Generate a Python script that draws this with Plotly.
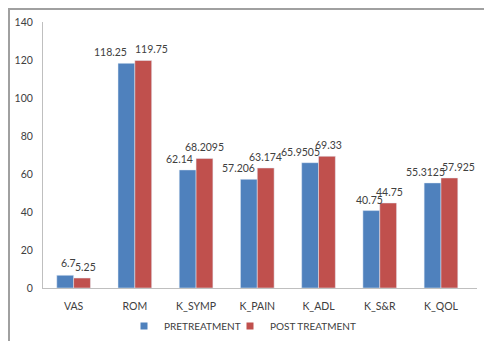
import plotly.graph_objects as go

categories = ["VAS", "ROM", "K_SYMP", "K_PAIN", "K_ADL", "K_S&R", "K_QOL"]
pre_values = [6.7, 118.25, 62.14, 57.206, 65.9505, 40.75, 55.3125]
post_values = [5.25, 119.75, 68.2095, 63.174, 69.33, 44.75, 57.925]
pre_labels = ["6.7", "118.25", "62.14", "57.206", "65.9505", "40.75", "55.3125"]
post_labels = ["5.25", "119.75", "68.2095", "63.174", "69.33", "44.75", "57.925"]
y_ticks = [0, 20, 40, 60, 80, 100, 120, 140]

# label nudges (px) as in the reference, relative to each bar's centre
pre_nudge = [3, -16, -8, -10, -9, -2, -7]
post_nudge = [3, 8, 0, 0, 1, 1, 9]
pre_lift = [12, 11, 11, 11, 11, 11, 11]

BLUE, RED = "#4F81BD", "#C0504D"
font = "Lato, 'Open Sans', sans-serif"
fs = 10.5
TXT = "#404040"

W, H = 484, 341
ml, mr, mt, mb = 43, 7, 22, 53
pw, ph = W - ml - mr, H - mt - mb
bargap = 0.45
cat_px = pw / len(categories)
bar_px = cat_px * (1 - bargap) / 2

def px_x(p):
    return (p - ml) / pw

def px_y(p):
    return (H - mb - p) / ph

fig = go.Figure()
fig.add_trace(go.Bar(name="PRETREATMENT", x=categories, y=pre_values, marker_color=BLUE,
                     showlegend=False, hoverinfo="x+y"))
fig.add_trace(go.Bar(name="POST TREATMENT", x=categories, y=post_values, marker_color=RED,
                     showlegend=False, hoverinfo="x+y"))
# legend entries with small square keys
fig.add_trace(go.Scatter(name="PRETREATMENT", x=[None], y=[None], mode="markers",
                         marker=dict(symbol="square", size=7, color=BLUE), legend="legend"))
fig.add_trace(go.Scatter(name="POST TREATMENT", x=[None], y=[None], mode="markers",
                         marker=dict(symbol="square", size=7, color=RED), legend="legend2"))

annotations = []
for cat, v, lab, dx, dy in zip(categories, pre_values, pre_labels, pre_nudge, pre_lift):
    annotations.append(dict(x=cat, y=v, xref="x", yref="y", text=lab, showarrow=False,
                            xanchor="center", yanchor="middle", xshift=-bar_px / 2 + dx,
                            yshift=dy, font=dict(size=fs, color=TXT, family=font)))
for cat, v, lab, dx in zip(categories, post_values, post_labels, post_nudge):
    annotations.append(dict(x=cat, y=v, xref="x", yref="y", text=lab, showarrow=False,
                            xanchor="center", yanchor="middle", xshift=bar_px / 2 + dx,
                            yshift=11, font=dict(size=fs, color=TXT, family=font)))

leg_common = dict(orientation="h", xref="container", yref="container", y=1 - 326 / H,
                  yanchor="middle", xanchor="left", font=dict(size=10, color=TXT),
                  itemwidth=30, bgcolor="rgba(0,0,0,0)", borderwidth=0)

fig.update_layout(
    width=W, height=H,
    margin=dict(l=ml, r=mr, t=mt, b=mb, autoexpand=False),
    paper_bgcolor="white", plot_bgcolor="white",
    barmode="group", bargap=bargap, bargroupgap=0,
    font=dict(family=font, size=fs, color=TXT),
    showlegend=True,
    legend=dict(x=(164 - 40) / W, **leg_common),
    legend2=dict(x=(270 - 40) / W, **leg_common),
    annotations=annotations,
    xaxis=dict(showline=True, linecolor="#BFBFBF", linewidth=1, ticks="", showgrid=False,
               tickfont=dict(size=fs), ticklabelstandoff=8),
    yaxis=dict(range=[0, 140], tickvals=y_ticks, showline=True, linecolor="#BFBFBF", linewidth=1,
               ticks="", showgrid=False, zeroline=False, tickfont=dict(size=fs),
               ticklabelstandoff=7),
    shapes=[dict(type="rect", xref="paper", yref="paper",
                 x0=px_x(9), x1=px_x(495), y0=px_y(355), y1=px_y(9),
                 line=dict(color="#A0A0A0", width=2), fillcolor="rgba(0,0,0,0)", layer="below")],
)

fig.write_html("out.html")
